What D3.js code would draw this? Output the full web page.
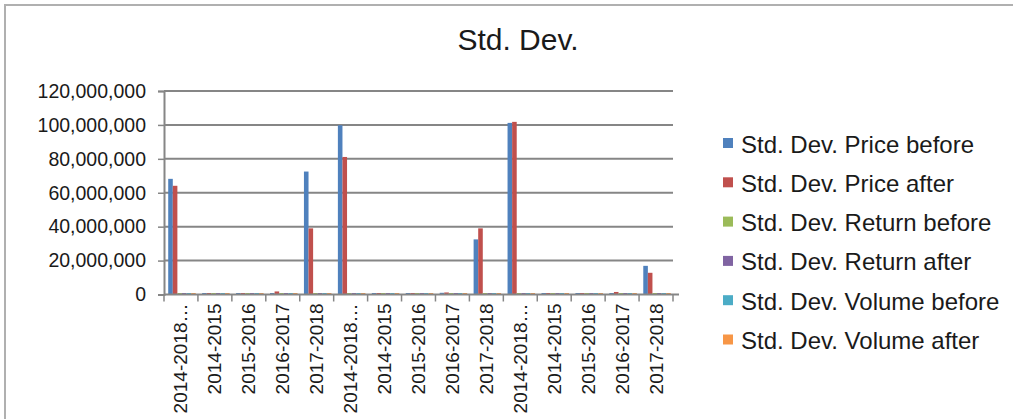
<!DOCTYPE html>
<html lang="en">
<head>
<meta charset="UTF-8"/>
<title>Std. Dev.</title>
<script src="https://d3js.org/d3.v7.min.js"></script>
<style>
    body { margin: 0; background: #fff; }
    text { font-family: "Liberation Sans", Arial, sans-serif; fill: #1a1a1a; }
</style>
</head>
<body>
<script>
    // Categories along the x axis (three stocks, five periods each)
    var categories = [
        "2014-2018…", "2014-2015", "2015-2016", "2016-2017", "2017-2018",
        "2014-2018…", "2014-2015", "2015-2016", "2016-2017", "2017-2018",
        "2014-2018…", "2014-2015", "2015-2016", "2016-2017", "2017-2018"
    ];

    // Series names
    var seriesNames = [
        "Std. Dev. Price before", "Std. Dev. Price after",
        "Std. Dev. Return before", "Std. Dev. Return after",
        "Std. Dev. Volume before", "Std. Dev. Volume after"
    ];

    // Series values
    var priceBefore = [68200000, 300000, 800000, 800000, 72500000, 99800000, 500000, 600000, 1000000, 32500000, 101200000, 300000, 300000, 600000, 16900000];
    var priceAfter = [64100000, 400000, 300000, 1800000, 39000000, 81100000, 500000, 400000, 1200000, 39000000, 101800000, 300000, 300000, 1500000, 12800000];
    var returnBefore = [0.02, 0.02, 0.02, 0.02, 0.02, 0.02, 0.02, 0.02, 0.02, 0.02, 0.02, 0.02, 0.02, 0.02, 0.02];
    var returnAfter = [0.02, 0.02, 0.02, 0.02, 0.02, 0.02, 0.02, 0.02, 0.02, 0.02, 0.02, 0.02, 0.02, 0.02, 0.02];
    var volumeBefore = [300000, 200000, 200000, 200000, 200000, 300000, 200000, 200000, 200000, 200000, 300000, 200000, 200000, 200000, 200000];
    var volumeAfter = [300000, 200000, 200000, 200000, 200000, 300000, 200000, 200000, 200000, 200000, 300000, 200000, 200000, 200000, 200000];

    // Y tick values
    var yTicks = [0, 20000000, 40000000, 60000000, 80000000, 100000000, 120000000];

    var allSeries = [priceBefore, priceAfter, returnBefore, returnAfter, volumeBefore, volumeAfter];
    var colours = ["#4F81BD", "#C0504D", "#9BBB59", "#8064A2", "#4BACC6", "#F79646"];

    var w = 1013;
    var h = 419;
    var plotLeft = 164, plotRight = 673, plotTop = 91, plotBottom = 294.5;

    var svg = d3.select("body")
        .append("svg")
        .attr("width", w)
        .attr("height", h);

    // Outer frame (left and top edges visible)
    svg.append("path")
        .attr("d", "M5," + h + "V5H" + w)
        .attr("fill", "none")
        .attr("stroke", "#b0b0b0")
        .attr("stroke-width", 2);

    // Title
    svg.append("text")
        .attr("x", 518)
        .attr("y", 50)
        .attr("text-anchor", "middle")
        .style("font-size", "30px")
        .text("Std. Dev.");

    // Scales
    var xScale = d3.scaleBand()
        .domain(d3.range(categories.length))
        .range([plotLeft, plotRight])
        .paddingInner(0)
        .paddingOuter(0);

    var xInner = d3.scaleBand()
        .domain(d3.range(allSeries.length))
        .range([0, xScale.bandwidth()])
        .paddingInner(0)
        .paddingOuter(0.7);

    var yScale = d3.scaleLinear()
        .domain([0, 120000000])
        .range([plotBottom, plotTop]);

    // Gridlines
    svg.append("g")
        .selectAll("line")
        .data(yTicks.slice(1))
        .enter()
        .append("line")
        .attr("x1", plotLeft)
        .attr("x2", plotRight)
        .attr("y1", d => yScale(d))
        .attr("y2", d => yScale(d))
        .attr("stroke", "#868686")
        .attr("stroke-width", 2);

    // Y axis
    var yAxis = d3.axisLeft(yScale)
        .tickValues(yTicks)
        .tickFormat(d3.format(","))
        .tickSize(6)
        .tickPadding(12);

    var yG = svg.append("g")
        .attr("transform", "translate(" + plotLeft + ",0)")
        .call(yAxis);
    yG.select(".domain").attr("stroke", "#868686").attr("stroke-width", 2);
    yG.selectAll(".tick line").attr("stroke", "#868686").attr("stroke-width", 1.5);
    yG.selectAll(".tick text")
        .style("font-size", "19.5px")
        .style("font-family", "'Liberation Sans', Arial, sans-serif")
        .attr("fill", "#1a1a1a");

    // Bars
    var groups = svg.selectAll("g.series")
        .data(allSeries)
        .enter()
        .append("g")
        .attr("class", "series")
        .attr("fill", (d, i) => colours[i]);

    groups.each(function (vals, si) {
        d3.select(this).selectAll("rect")
            .data(vals)
            .enter()
            .append("rect")
            .attr("x", (d, i) => xScale(i) + xInner(si) + 1)
            .attr("width", xInner.bandwidth())
            .attr("y", d => Math.min(yScale(d), plotBottom - 1.5))
            .attr("height", d => Math.max(plotBottom - yScale(d), 1.5));
    });

    // X axis
    var xAxis = d3.axisBottom(xScale)
        .tickSize(0)
        .tickFormat(i => categories[i]);

    var xG = svg.append("g")
        .attr("transform", "translate(0," + plotBottom + ")")
        .call(xAxis);
    xG.select(".domain")
        .attr("d", "M" + plotLeft + ",0H" + (plotRight + 6))
        .attr("stroke", "#868686")
        .attr("stroke-width", 2);
    xG.selectAll(".tick text")
        .attr("transform", "rotate(-90)")
        .attr("text-anchor", "end")
        .attr("dominant-baseline", "central")
        .attr("x", -9)
        .attr("y", 0)
        .attr("dy", null)
        .style("font-size", "19px")
        .style("font-family", "'Liberation Sans', Arial, sans-serif")
        .attr("fill", "#1a1a1a");

    // Category boundary ticks
    xG.append("g")
        .selectAll("line")
        .data(d3.range(categories.length + 1))
        .enter()
        .append("line")
        .attr("x1", i => plotLeft + i * xScale.step())
        .attr("x2", i => plotLeft + i * xScale.step())
        .attr("y1", 0)
        .attr("y2", 7)
        .attr("stroke", "#868686")
        .attr("stroke-width", 1.5);

    // Legend
    var legend = svg.append("g")
        .selectAll("g")
        .data(seriesNames)
        .enter()
        .append("g")
        .attr("transform", (d, i) => "translate(723," + (143 + i * 39.3) + ")");

    legend.append("rect")
        .attr("x", 0)
        .attr("y", -5)
        .attr("width", 10)
        .attr("height", 10)
        .attr("fill", (d, i) => colours[i]);

    legend.append("text")
        .attr("x", 18)
        .attr("y", 1)
        .attr("dominant-baseline", "central")
        .style("font-size", "24px")
        .text(d => d);
</script>
</body>
</html>
